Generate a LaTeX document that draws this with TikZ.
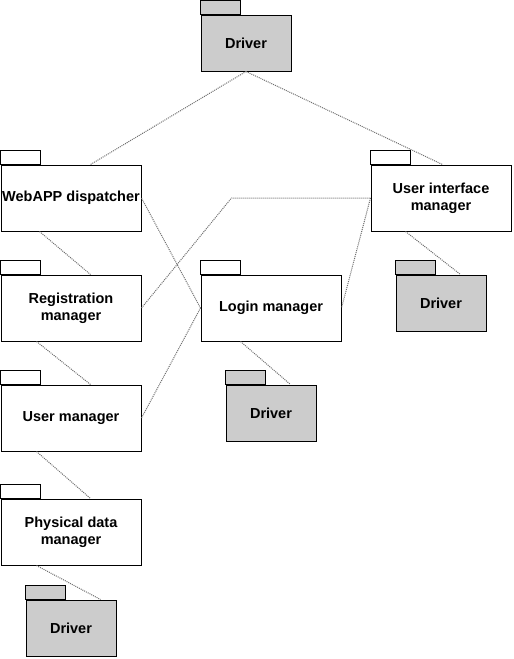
\documentclass[tikz,border=0pt]{standalone}
\usepackage{fontspec}
\setmainfont{Liberation Sans}
\usetikzlibrary{positioning}

\definecolor{drvgray}{RGB}{204,204,204}
\definecolor{depgray}{RGB}{110,110,110}

\tikzset{
  folder/.style={draw, fill=#1, line width=1pt, inner sep=0.5pt, align=center,
    font=\bfseries\fontsize{14.5pt}{17pt}\selectfont,
    append after command={\pgfextra{\draw[line width=1pt, fill=#1]
      (\tikzlastnode.north west) rectangle ++(40pt,14pt);}}},
  pkg/.style={folder=white, minimum width=140pt, minimum height=66pt},
  drv/.style={folder=drvgray, minimum width=90pt, minimum height=56pt},
  dep/.style={draw=depgray, line width=1pt, dash pattern=on 1pt off 1pt}
}

\begin{document}
\begin{tikzpicture}[x=1pt,y=1pt,node distance=110pt,on grid]
   \useasboundingbox (0,0) rectangle (514,-659);
   \node[drv] (topdrv) at (246,-43) {Driver};
   \node[pkg] (web) at (71,-198) {WebAPP dispatcher};
   \node[pkg] (reg) [below=of web] {Registration\\manager};
   \node[pkg] (user) [below=of reg] {User manager};
   \node[pkg] (phys) [below=114pt of user] {Physical data\\manager};
   \node[drv] (bdrv) [below=96pt of phys] {Driver};
   \node[pkg] (login) [right=200pt of reg] {Login manager};
   \node[drv] (ldrv) [below=105pt of login] {Driver};
   \node[pkg] (ui) [right=370pt of web] {User interface\\manager};
   \node[drv] (rdrv) [below=105pt of ui] {Driver};

   \path[dep]
    (topdrv.south) edge ([xshift=90pt]web.north west)
    (topdrv.south) edge ([xshift=72pt]ui.north west)
    (web.east) edge (login.west)
    ([xshift=39pt]web.south west) edge ([xshift=90pt]reg.north west)
    (ui.west) edge (login.east)
    ([xshift=35pt]ui.south west) edge ([xshift=65pt]rdrv.north west)
    ([xshift=40pt]login.south west) edge ([xshift=65pt]ldrv.north west)
    ([xshift=36pt]reg.south west) edge ([xshift=90pt]user.north west)
    (user.east) edge (login.west)
    ([xshift=36pt]user.south west) edge ([xshift=90pt]phys.north west)
    ([xshift=36pt]phys.south west) edge ([xshift=75pt]bdrv.north west);
   \draw[dep] (reg.east) -- ++(90pt,110pt) -- (ui.west);
\end{tikzpicture}
\end{document}
